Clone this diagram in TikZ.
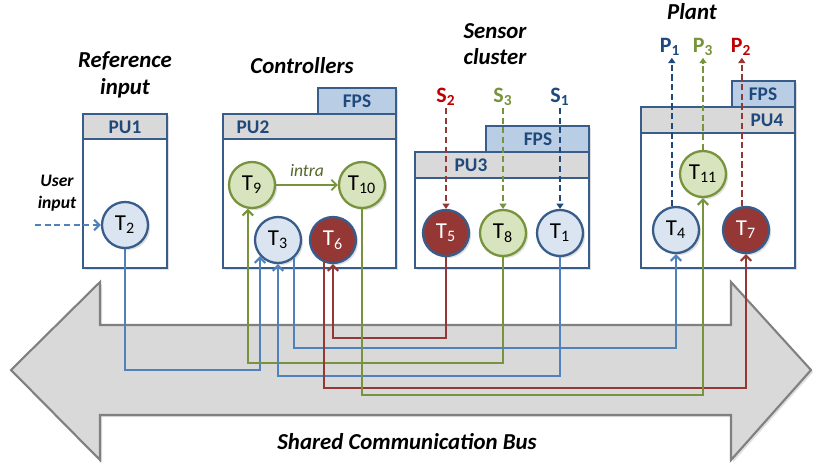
\documentclass[tikz,border=0pt]{standalone}
\usepackage{fontspec}
\setmainfont{Carlito}
\usepackage{tikz}
\usetikzlibrary{arrows.meta}
\usetikzlibrary{shadows}
\usetikzlibrary{positioning}

\definecolor{pudark}{HTML}{385D8A}
\definecolor{putext}{HTML}{1F497D}
\definecolor{hdgray}{HTML}{D9D9D9}
\definecolor{fpsblue}{HTML}{B9CDE5}
\definecolor{tblue}{HTML}{DBE5F1}
\definecolor{tgreen}{HTML}{D7E4BD}
\definecolor{tred}{HTML}{953735}
\definecolor{wblue}{HTML}{4F81BD}
\definecolor{wgreen}{HTML}{77933C}
\definecolor{wred}{HTML}{953735}
\definecolor{sred}{HTML}{C00000}
\definecolor{busgray}{HTML}{808080}

\tikzset{>={Straight Barb[length=3pt,width=6pt]},
  softshadow/.style={drop shadow={opacity=0.25,shadow xshift=1.2pt,shadow yshift=-1.2pt}},
  pubox/.style={draw=pudark, line width=1.5pt, fill=white, softshadow},
  puhead/.style={draw=pudark, line width=1.5pt, fill=hdgray},
  fpstab/.style={draw=pudark, line width=1.5pt, fill=fpsblue, softshadow},
  pulabel/.style={font=\fontsize{11}{13}\selectfont\bfseries, text=putext},
  task/.style={circle, line width=1.3pt, minimum size=0.92cm, inner sep=0pt,
    font=\fontsize{13}{15}\selectfont, softshadow},
  btask/.style={task, draw=pudark, fill=tblue},
  gtask/.style={task, draw=wgreen, fill=tgreen},
  rtask/.style={task, draw=pudark, fill=tred, text=white},
  title/.style={font=\fontsize{13}{15}\selectfont\bfseries\itshape, align=center},
  smalltitle/.style={font=\fontsize{10}{12.5}\selectfont\bfseries\itshape, align=center},
  sig/.style={font=\fontsize{12.5}{14}\selectfont\bfseries, inner sep=1pt},
  wire/.style={line width=1.2pt, ->},
  sdash/.style={line width=1.2pt, dash pattern=on 3.5pt off 2pt, -{Triangle[length=3pt,width=4pt]}},
  bus/.style={fill=hdgray, draw=busgray, line width=1.2pt, softshadow}
}

\begin{document}
\begin{tikzpicture}[x=0.02cm, y=-0.02cm]
\useasboundingbox (0,0) rectangle (813,464);

% shared bus
\filldraw[bus] (11,370) -- (100,282) -- (100,325) -- (731,325) -- (731,282)
  -- (811,370) -- (731,460) -- (731,415) -- (100,415) -- (100,460) -- cycle;
\node[title] (buslbl) at (407,442) {Shared Communication Bus};

% PU1
\draw[pubox] (83,114) rectangle (167,268);
\draw[puhead] (83,114) rectangle (167,139);
\node[pulabel] (pu1) at (125,127) {PU1};
\node[title] (refin) at (125,75) {Reference\\input};
\node[btask] (T2) at (125,225) {T\textsubscript{2}};
\node[smalltitle] (user) at (57,193) {User\\input};
\coordinate (uin) at (35,225);
\draw[wblue, line width=1.2pt, dash pattern=on 3.5pt off 2pt, ->] (uin) -- (T2);

% PU2
\draw[fpstab] (318,88) rectangle (396,114);
\node[pulabel] (fps2) at (357,101) {FPS};
\draw[pubox] (223,114) rectangle (396,268);
\draw[puhead] (223,114) rectangle (396,139);
\node[pulabel] (pu2) at (253,127) {PU2};
\node[title] (ctrl) at (302,66) {Controllers};
\node[gtask] (T9) at (252,185) {T\textsubscript{9}};
\node[gtask] (T10) at (362,185) {T\textsubscript{10}};
\node[btask] (T3) at (278,240) {T\textsubscript{3}};
\node[rtask] (T6) at (333,240) {T\textsubscript{6}};
\draw[wgreen, line width=1pt, ->] (T9) -- node[above=1pt, font=\fontsize{10}{12}\selectfont\itshape, text=wgreen!70!black] {intra} (T10);

% PU3
\draw[fpstab] (486,126) rectangle (589,152);
\node[pulabel] (fps3) at (538,139) {FPS};
\draw[pubox] (415,152) rectangle (589,268);
\draw[puhead] (415,152) rectangle (589,178);
\node[pulabel] (pu3) at (471,165) {PU3};
\node[title] (sens) at (495,44) {Sensor\\cluster};
\node[rtask] (T5) at (446,233) {T\textsubscript{5}};
\node[gtask] (T8) at (503,233) {T\textsubscript{8}};
\node[btask] (T1) at (560,233) {T\textsubscript{1}};
\node[sig, text=sred] (S2) at (446,97) {S\textsubscript{2}};
\node[sig, text=wgreen] (S3) at (503,97) {S\textsubscript{3}};
\node[sig, text=putext] (S1) at (560,97) {S\textsubscript{1}};
\draw[sdash, wred] (S2) -- (T5);
\draw[sdash, wgreen] (S3) -- (T8);
\draw[sdash, putext] (S1) -- (T1);

% PU4
\draw[fpstab] (732,81) rectangle (795,107);
\node[pulabel] (fps4) at (763,94) {FPS};
\draw[pubox] (641,107) rectangle (795,268);
\draw[puhead] (641,107) rectangle (795,133);
\node[pulabel] (pu4) at (767,120) {PU4};
\node[title] (plant) at (692,12) {Plant};
\node[btask] (T4) at (676,230) {T\textsubscript{4}};
\node[gtask] (T11) at (703,174) {T\textsubscript{11}};
\node[rtask] (T7) at (746,230) {T\textsubscript{7}};
\node[sig, text=putext] (P1) at (670,47) {P\textsubscript{1}};
\node[sig, text=wgreen] (P3) at (703,47) {P\textsubscript{3}};
\node[sig, text=sred] (P2) at (741,47) {P\textsubscript{2}};
\draw[sdash, putext] (T4.100) -- (T4.100 |- P1.south);
\draw[sdash, wgreen] (T11) -- (P3);
\draw[sdash, wred] (T7.100) -- (T7.100 |- P2.south);

% messages over the bus
\draw[wire, wblue] (T2.south) |- (T3.222 |- 0,370) -- (T3.222);
\draw[wire, wgreen] (T8.south) |- (T9.260 |- 0,363) -- (T9.260);
\draw[wire, wblue] (T3.311) |- (T4.south |- 0,348) -- (T4.south);
\draw[wire, wblue] (T1.south) |- (T3.south |- 0,376) -- (T3.south);
\draw[wire, wred] (T5.south) |- (T6.south |- 0,338) -- (T6.south);
\draw[wire, wred] (T6.247) |- (T7.south |- 0,388) -- (T7.south);
\draw[wire, wgreen] (T10.south) |- (T11.south |- 0,395) -- (T11.south);

\end{tikzpicture}
\end{document}
